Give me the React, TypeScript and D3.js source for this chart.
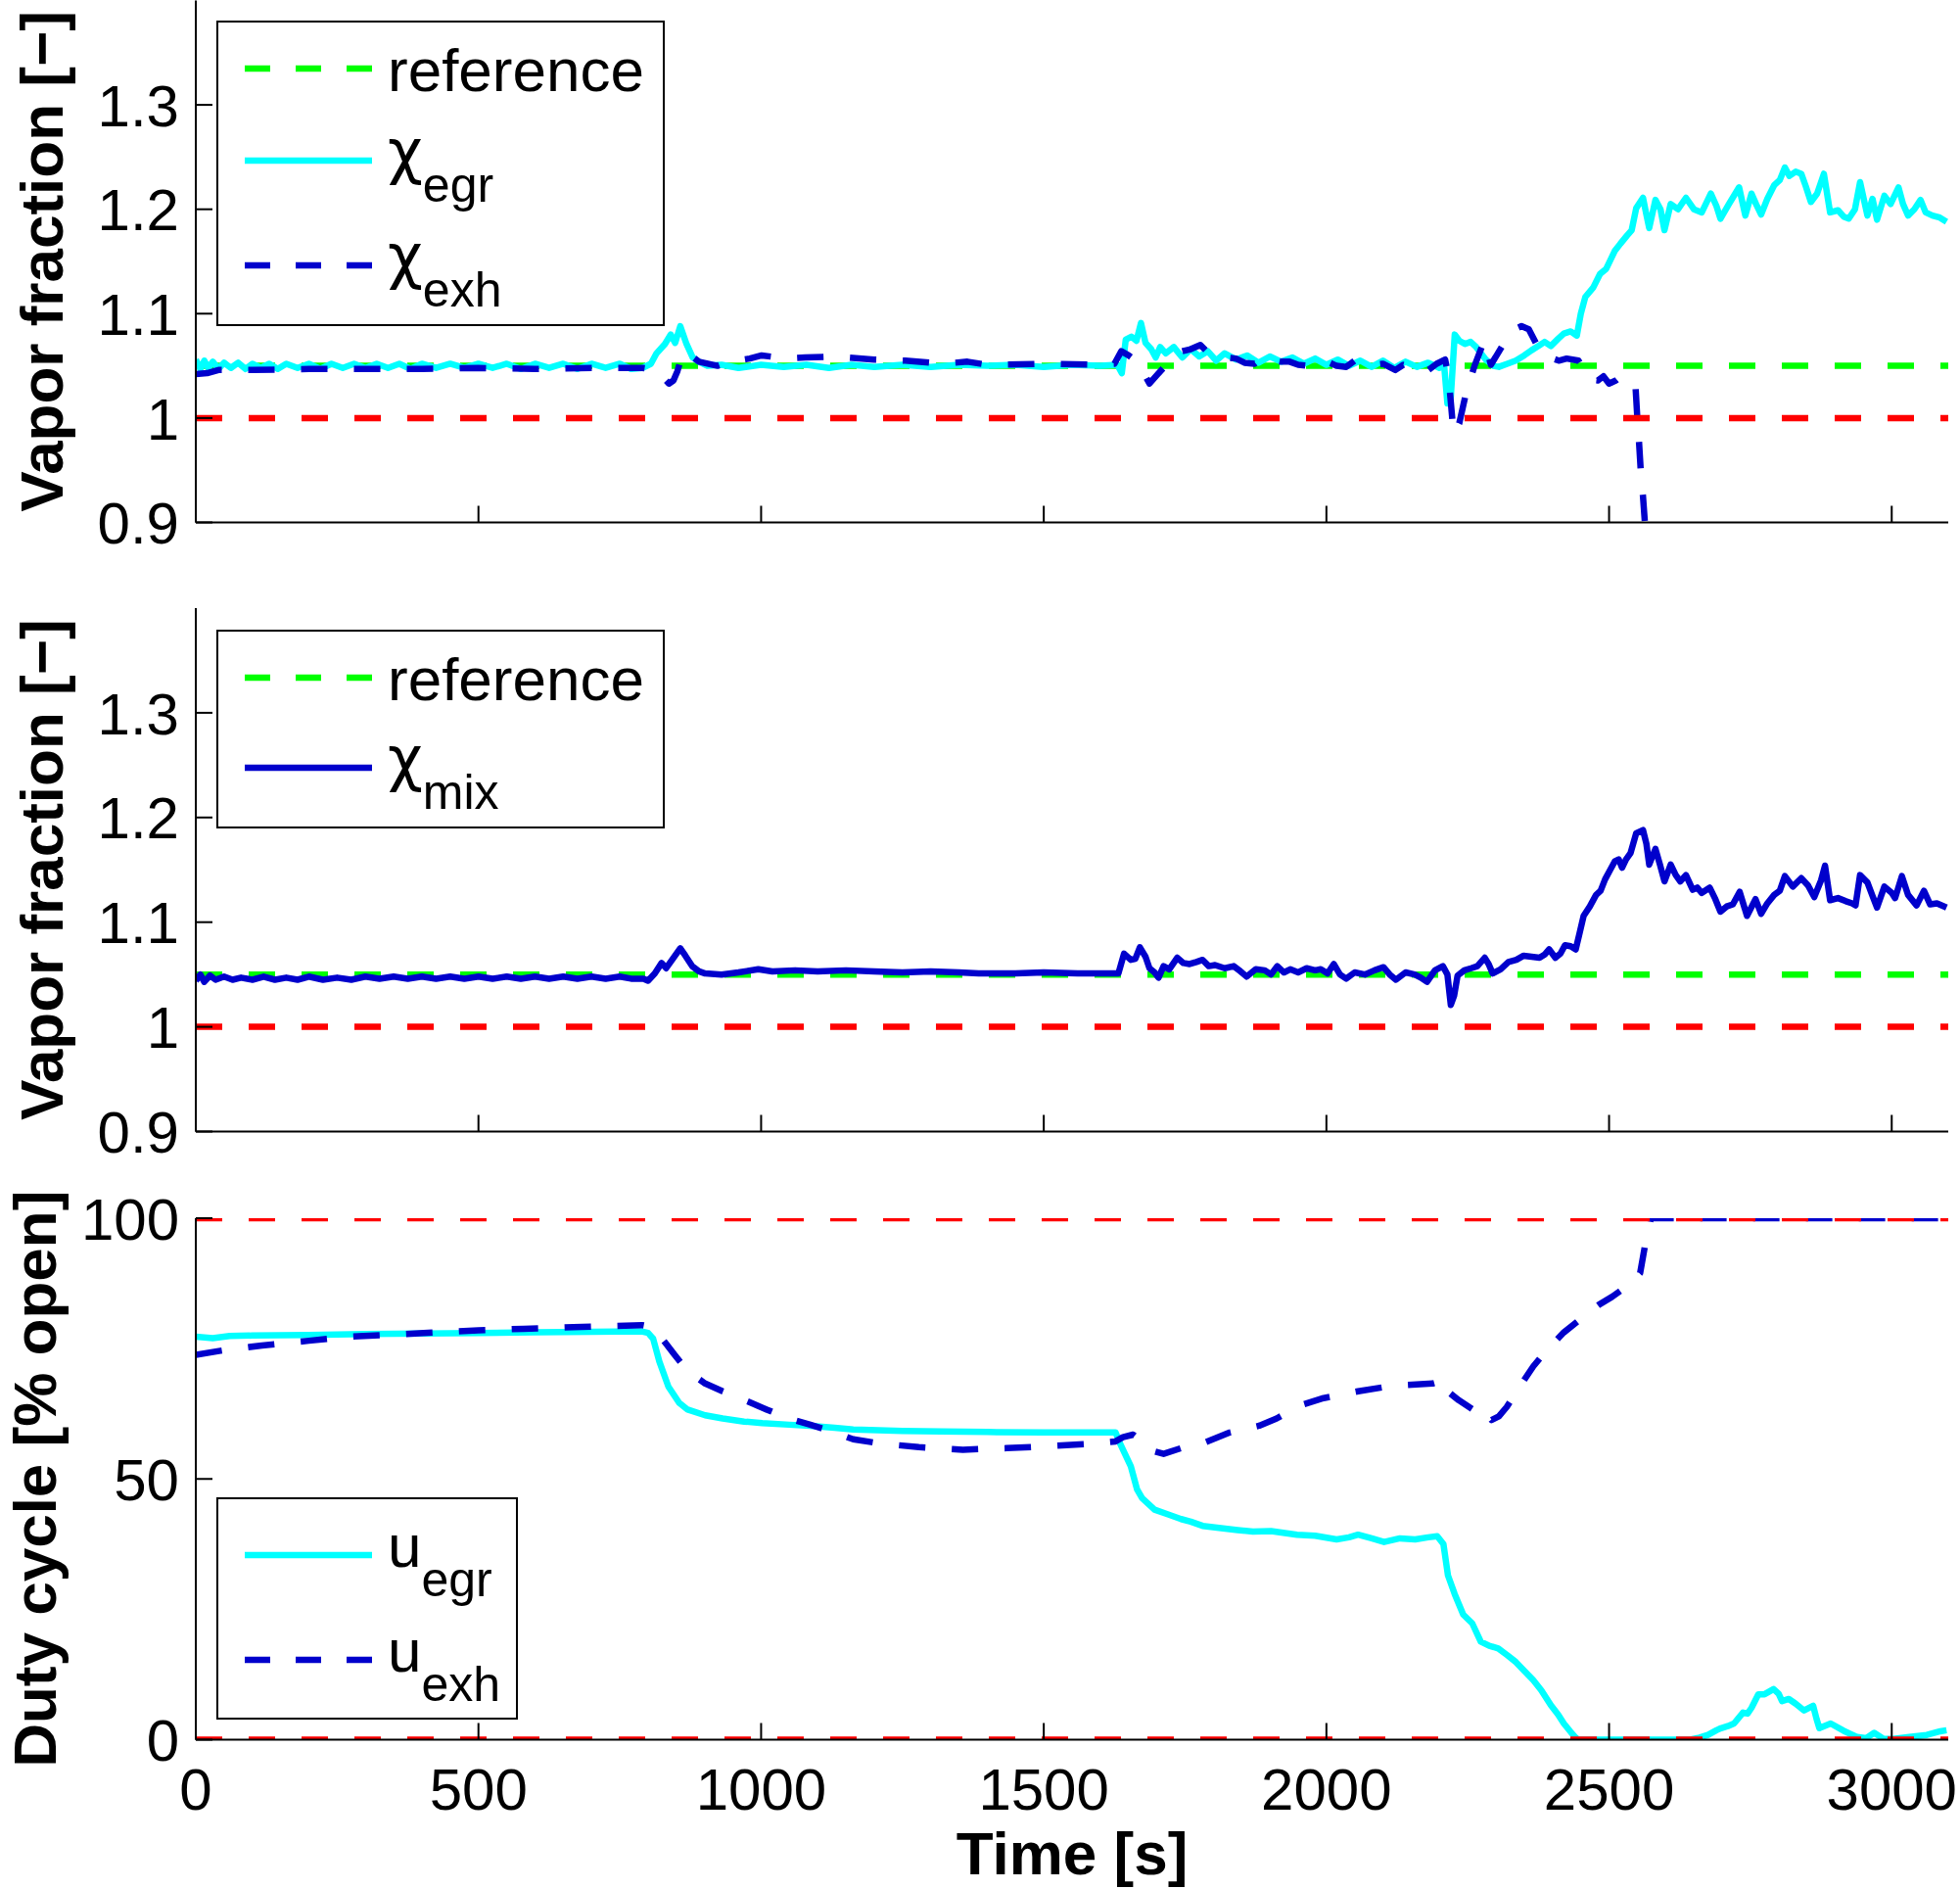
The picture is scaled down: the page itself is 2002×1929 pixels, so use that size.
import React from 'react';
import * as d3 from 'd3';

// ---- data ----
const T_MAX = 3100;
const timeTicks = [0, 500, 1000, 1500, 2000, 2500, 3000];
const vaporTicks = [0.9, 1, 1.1, 1.2, 1.3];
const dutyTicks = [0, 50, 100];
const vaporRef = 1.05;
const vaporLimit = 1.0;
const dutyLimits = [0, 100];

const chiEgr: [number, number][] = [
  [0, 1.056], [8, 1.047], [15, 1.055], [22, 1.048], [30, 1.054], [40, 1.047], [50, 1.053], [62, 1.048], [75, 1.053],
  [88, 1.047], [100, 1.052], [115, 1.048], [130, 1.052], [145, 1.047], [160, 1.052], [180, 1.048], [200, 1.052],
  [220, 1.047], [240, 1.052], [260, 1.048], [280, 1.052], [300, 1.048], [320, 1.052], [340, 1.048], [360, 1.052],
  [380, 1.047], [400, 1.052], [425, 1.048], [450, 1.052], [475, 1.048], [500, 1.052], [525, 1.048], [550, 1.052],
  [575, 1.047], [600, 1.052], [625, 1.048], [650, 1.052], [675, 1.047], [700, 1.052], [725, 1.048], [750, 1.052],
  [770, 1.047], [790, 1.048], [805, 1.052], [815, 1.062],
  [830, 1.071], [840, 1.08], [848, 1.072], [857, 1.088], [868, 1.071], [879, 1.058], [890, 1.054], [905, 1.05],
  [930, 1.051], [960, 1.048], [1000, 1.051], [1040, 1.049], [1080, 1.051], [1120, 1.048], [1160, 1.051], [1200, 1.049],
  [1250, 1.051], [1300, 1.049], [1350, 1.051], [1400, 1.05], [1450, 1.051], [1500, 1.049], [1550, 1.051], [1600, 1.05],
  [1630, 1.051], [1638, 1.043], [1645, 1.075], [1655, 1.078], [1664, 1.074], [1672, 1.091], [1680, 1.072], [1690, 1.066],
  [1698, 1.058], [1706, 1.068], [1716, 1.062], [1730, 1.068], [1745, 1.058], [1760, 1.066], [1775, 1.059], [1790, 1.064],
  [1805, 1.055], [1820, 1.062], [1840, 1.056], [1860, 1.06], [1880, 1.053], [1900, 1.059], [1920, 1.054], [1940, 1.058],
  [1960, 1.052], [1980, 1.057], [2000, 1.051], [2020, 1.056], [2040, 1.05], [2060, 1.055], [2080, 1.049], [2100, 1.055],
  [2120, 1.048], [2140, 1.054], [2160, 1.049], [2180, 1.053], [2200, 1.048], [2208, 1.052], [2214, 1.014], [2220, 1.02],
  [2227, 1.08], [2235, 1.074], [2245, 1.071], [2255, 1.073], [2265, 1.068], [2282, 1.056], [2295, 1.05], [2305, 1.049],
  [2320, 1.052], [2335, 1.055], [2350, 1.06], [2363, 1.065], [2375, 1.069], [2386, 1.073], [2397, 1.069], [2410, 1.076],
  [2420, 1.081], [2432, 1.083], [2443, 1.079], [2450, 1.1], [2458, 1.116], [2472, 1.125], [2484, 1.138], [2495, 1.143],
  [2510, 1.16], [2520, 1.167], [2532, 1.175], [2540, 1.18], [2548, 1.201], [2560, 1.211], [2566, 1.195], [2571, 1.182],
  [2582, 1.209], [2591, 1.2], [2598, 1.18], [2609, 1.205], [2622, 1.2], [2636, 1.211], [2650, 1.2], [2664, 1.197],
  [2680, 1.215], [2690, 1.203], [2697, 1.191], [2712, 1.205], [2730, 1.221], [2741, 1.194], [2752, 1.215], [2760, 1.205],
  [2769, 1.195], [2780, 1.21], [2792, 1.223], [2802, 1.228], [2811, 1.24], [2819, 1.232], [2830, 1.236], [2840, 1.234],
  [2848, 1.222], [2857, 1.207], [2868, 1.215], [2880, 1.234], [2891, 1.197], [2905, 1.199], [2915, 1.193], [2924, 1.191],
  [2935, 1.2], [2944, 1.226], [2957, 1.194], [2966, 1.21], [2974, 1.19], [2987, 1.213], [2998, 1.205], [3012, 1.221],
  [3020, 1.205], [3029, 1.194], [3040, 1.2], [3051, 1.209], [3060, 1.197], [3072, 1.194], [3085, 1.192], [3097, 1.188],
];

const chiExh: [number, number][] = [
  [0, 1.042], [20, 1.043], [40, 1.046], [100, 1.046], [200, 1.047], [300, 1.047], [400, 1.047], [500, 1.048],
  [600, 1.047], [700, 1.048], [790, 1.048], [815, 1.046], [825, 1.04], [837, 1.033], [845, 1.036], [852, 1.045],
  [860, 1.06], [868, 1.064], [880, 1.058], [890, 1.054], [923, 1.05], [945, 1.054], [980, 1.057], [1001, 1.06],
  [1045, 1.057], [1078, 1.058], [1133, 1.059], [1200, 1.056], [1255, 1.055], [1321, 1.052], [1365, 1.054], [1400, 1.051],
  [1500, 1.052], [1600, 1.051], [1625, 1.052], [1637, 1.064], [1650, 1.06], [1660, 1.056], [1675, 1.045], [1687, 1.033],
  [1700, 1.041], [1715, 1.05], [1738, 1.063], [1760, 1.066], [1777, 1.07], [1790, 1.063], [1806, 1.06], [1823, 1.058],
  [1840, 1.057], [1855, 1.053], [1873, 1.052], [1887, 1.058], [1901, 1.056], [1918, 1.054], [1935, 1.054], [1950, 1.051],
  [1968, 1.05], [1985, 1.054], [2002, 1.054], [2018, 1.05], [2035, 1.049], [2050, 1.055], [2068, 1.053], [2085, 1.051],
  [2100, 1.052], [2122, 1.046], [2136, 1.051], [2150, 1.049], [2165, 1.047], [2178, 1.045], [2195, 1.052], [2210, 1.056],
  [2216, 1.04], [2225, 0.985], [2235, 0.995], [2247, 1.024], [2262, 1.05], [2279, 1.074], [2291, 1.051], [2310, 1.068],
  [2332, 1.085], [2345, 1.088], [2358, 1.085], [2378, 1.064], [2395, 1.058], [2411, 1.055], [2425, 1.057], [2446, 1.055],
  [2456, 1.045], [2466, 1.037], [2480, 1.036], [2490, 1.04], [2500, 1.033], [2512, 1.036], [2523, 1.041], [2535, 1.036],
  [2547, 1.028], [2550, 1.0], [2553, 0.977], [2556, 0.95], [2560, 0.925], [2566, 0.88],
];

const chiMix: [number, number][] = [
  [0, 1.044], [8, 1.05], [15, 1.043], [25, 1.049], [35, 1.045], [50, 1.048], [65, 1.045], [80, 1.047], [100, 1.045],
  [120, 1.048], [140, 1.045], [160, 1.047], [180, 1.045], [200, 1.048], [225, 1.045], [250, 1.047], [275, 1.045],
  [300, 1.048], [325, 1.046], [350, 1.048], [375, 1.046], [400, 1.048], [425, 1.046], [450, 1.048], [475, 1.046],
  [500, 1.048], [525, 1.046], [550, 1.048], [575, 1.046], [600, 1.048], [625, 1.046], [650, 1.048], [675, 1.046],
  [700, 1.048], [725, 1.046], [750, 1.048], [770, 1.046], [792, 1.046], [800, 1.044], [812, 1.051],
  [824, 1.061], [832, 1.056], [845, 1.066], [857, 1.075], [866, 1.068], [878, 1.058], [890, 1.053], [901, 1.051],
  [930, 1.05], [960, 1.052], [995, 1.055], [1020, 1.053], [1060, 1.054], [1100, 1.053], [1150, 1.054], [1200, 1.053],
  [1250, 1.052], [1300, 1.053], [1350, 1.052], [1385, 1.051], [1450, 1.051], [1500, 1.052], [1560, 1.051], [1600, 1.051],
  [1632, 1.051], [1642, 1.07], [1654, 1.064], [1662, 1.065], [1670, 1.076], [1680, 1.067], [1687, 1.056], [1696, 1.052],
  [1703, 1.047], [1712, 1.058], [1722, 1.055], [1736, 1.066], [1747, 1.061], [1758, 1.06], [1770, 1.062], [1781, 1.064],
  [1792, 1.058], [1803, 1.059], [1820, 1.056], [1836, 1.058], [1848, 1.053], [1859, 1.048], [1875, 1.055], [1891, 1.054],
  [1902, 1.05], [1913, 1.058], [1925, 1.052], [1936, 1.055], [1950, 1.052], [1965, 1.056], [1980, 1.054], [1990, 1.055],
  [2002, 1.051], [2013, 1.06], [2024, 1.05], [2035, 1.046], [2050, 1.052], [2068, 1.05], [2085, 1.054], [2101, 1.057],
  [2112, 1.05], [2123, 1.045], [2140, 1.052], [2156, 1.05], [2167, 1.047], [2178, 1.043], [2192, 1.054], [2206, 1.058],
  [2214, 1.05], [2220, 1.021], [2226, 1.03], [2232, 1.049], [2244, 1.054], [2256, 1.056], [2267, 1.058], [2280, 1.066],
  [2287, 1.06], [2294, 1.051], [2308, 1.055], [2322, 1.062], [2336, 1.064], [2349, 1.068], [2363, 1.067], [2377, 1.066],
  [2386, 1.069], [2394, 1.074], [2405, 1.066], [2414, 1.07], [2422, 1.078], [2432, 1.077], [2441, 1.074], [2448, 1.09],
  [2455, 1.106], [2466, 1.115], [2477, 1.126], [2485, 1.13], [2493, 1.141], [2502, 1.15], [2510, 1.158], [2517, 1.16],
  [2523, 1.152], [2530, 1.16], [2538, 1.166], [2548, 1.185], [2560, 1.188], [2566, 1.175], [2571, 1.155], [2582, 1.17],
  [2590, 1.155], [2598, 1.139], [2609, 1.155], [2618, 1.145], [2626, 1.139], [2636, 1.145], [2648, 1.131], [2656, 1.133],
  [2664, 1.128], [2678, 1.133], [2688, 1.122], [2697, 1.11], [2708, 1.115], [2719, 1.117], [2731, 1.129], [2744, 1.106],
  [2759, 1.122], [2769, 1.108], [2780, 1.118], [2792, 1.126], [2802, 1.13], [2811, 1.144], [2825, 1.134], [2840, 1.142],
  [2852, 1.135], [2863, 1.124], [2875, 1.14], [2882, 1.154], [2891, 1.121], [2905, 1.123], [2919, 1.12], [2930, 1.118],
  [2936, 1.116], [2944, 1.145], [2957, 1.138], [2966, 1.125], [2974, 1.114], [2987, 1.134], [3000, 1.128], [3006, 1.123],
  [3018, 1.144], [3029, 1.126], [3044, 1.116], [3057, 1.13], [3068, 1.117], [3080, 1.118], [3097, 1.114],
];

const uEgr: [number, number][] = [
  [0, 77.3], [30, 77.0], [60, 77.4], [100, 77.5], [200, 77.6], [300, 77.8], [400, 77.9], [500, 78.0],
  [600, 78.1], [700, 78.2], [789, 78.3], [800, 78.0], [809, 76.9], [820, 72.5], [836, 67.7], [855, 64.6],
  [870, 63.3], [901, 62.2], [932, 61.6], [970, 61.0], [1002, 60.7], [1050, 60.4], [1086, 60.2], [1130, 59.8],
  [1163, 59.5], [1250, 59.2], [1318, 59.1], [1400, 59.0], [1500, 58.9], [1549, 58.9], [1627, 58.9], [1635, 56.8],
  [1654, 52.4], [1665, 48.0], [1674, 46.3], [1696, 44.1], [1720, 43.2], [1743, 42.3], [1760, 41.8], [1781, 41.0],
  [1810, 40.6], [1843, 40.2], [1870, 39.9], [1902, 40.0], [1948, 39.3], [1980, 39.1], [2018, 38.4], [2040, 38.8],
  [2056, 39.3], [2080, 38.6], [2102, 37.9], [2130, 38.6], [2157, 38.4], [2180, 38.8], [2196, 39.0], [2207, 37.5],
  [2215, 31.5], [2227, 27.9], [2242, 24.0], [2258, 22.3], [2273, 18.8], [2288, 18.0], [2304, 17.5], [2320, 16.2],
  [2335, 14.9], [2350, 13.2], [2366, 11.4], [2380, 9.5], [2397, 6.6], [2410, 4.8], [2420, 3.1], [2432, 1.5],
  [2440, 0.5], [2445, 0], [2644, 0], [2660, 0.4], [2675, 0.9], [2690, 1.8], [2698, 2.2], [2710, 2.6],
  [2721, 3.1], [2737, 5.2], [2745, 5.0], [2752, 6.1], [2764, 8.7], [2775, 8.7], [2791, 9.7], [2800, 8.8],
  [2806, 7.4], [2818, 7.8], [2830, 6.9], [2845, 5.6], [2861, 6.5], [2867, 4.0], [2872, 2.2], [2892, 3.1],
  [2915, 1.7], [2939, 0.5], [2955, 0.3], [2969, 1.3], [2985, 0.2], [3000, 0.1], [3031, 0.5], [3062, 0.9],
  [3086, 1.6], [3097, 1.8],
];

const uExh: [number, number][] = [
  [0, 73.8], [50, 74.7], [117, 75.6], [200, 76.5], [272, 77.3], [350, 77.7], [426, 78.1], [500, 78.5],
  [580, 78.8], [700, 79.2], [789, 79.5], [803, 79.2], [816, 78.1], [830, 76.2], [847, 73.8], [870, 70.7],
  [901, 68.3], [932, 66.8], [971, 65.1], [1010, 63.3], [1048, 61.6], [1087, 60.4], [1125, 59.1], [1163, 57.6],
  [1210, 56.8], [1279, 56.1], [1357, 55.6], [1434, 55.9], [1511, 56.3], [1588, 56.8], [1627, 57.2], [1640, 58.0],
  [1658, 58.5], [1675, 57.0], [1689, 55.5], [1712, 54.8], [1743, 55.9], [1781, 56.8], [1829, 58.9], [1881, 60.2],
  [1912, 61.6], [1951, 64.0], [1995, 65.5], [2056, 66.8], [2118, 67.9], [2188, 68.3], [2211, 69.0], [2219, 66.4],
  [2234, 65.1], [2265, 62.9], [2277, 63.5], [2292, 61.3], [2305, 62.0], [2319, 63.8], [2342, 67.7], [2366, 71.6],
  [2389, 74.6], [2420, 78.1], [2451, 80.8], [2482, 83.4], [2505, 84.9], [2536, 87.3], [2555, 89.5], [2563, 94.4],
  [2574, 100], [3097, 100],
];

const CYAN = '#00ffff';
const BLUE = '#0000cc';
const GREEN = '#00ff00';
const RED = '#ff0000';
const DASH = '27 27';
const LW = 6.5;
const FONT = '"Liberation Sans", Arial, Helvetica, sans-serif';

const x = d3.scaleLinear().domain([0, T_MAX]).range([200, 1990]);
const yTop = d3.scaleLinear().domain([0.9, 1.4]).range([533.5, 0.5]);
const yMid = d3.scaleLinear().domain([0.9, 1.4]).range([1155.5, 621]);
const yBot = d3.scaleLinear().domain([0, 100]).range([1776.5, 1244]);

type Series = { data: [number, number][]; color: string; dashed: boolean };
type LegendItem = { main: string; sub?: string; greek?: boolean; color: string; dashed: boolean };

function Panel(props: {
  id: string;
  y: d3.ScaleLinear<number, number>;
  ticks: number[];
  series: Series[];
  hlines: { value: number; color: string }[];
  ylabel: string;
  ylabelX: number;
  xLabels: boolean;
}) {
  const { id, y, ticks, series, hlines, ylabel, ylabelX, xLabels } = props;
  const [x0, x1] = x.range();
  const [yb, yt] = y.range();
  const line = d3.line<[number, number]>().x(d => x(d[0])).y(d => y(d[1]));
  return (
    <g>
      <defs>
        <clipPath id={id}>
          <rect x={x0} y={yt} width={x1 - x0} height={yb - yt} />
        </clipPath>
      </defs>
      <g clipPath={`url(#${id})`}>
        {series.map((s, i) => (
          <path key={i} d={line(s.data) || ''} fill="none" stroke={s.color} strokeWidth={LW}
            strokeDasharray={s.dashed ? DASH : undefined} strokeLinejoin="round" />
        ))}
        {hlines.map((h, i) => (
          <line key={i} x1={x(0)} x2={x(T_MAX)} y1={y(h.value)} y2={y(h.value)}
            stroke={h.color} strokeWidth={LW} strokeDasharray={DASH} />
        ))}
      </g>
      <line x1={x0} x2={x0} y1={yt} y2={yb} stroke="#000" strokeWidth={2} />
      <line x1={x0} x2={x1} y1={yb} y2={yb} stroke="#000" strokeWidth={2} />
      {timeTicks.map(t => (
        <line key={t} x1={x(t)} x2={x(t)} y1={yb} y2={yb - 17} stroke="#000" strokeWidth={2} />
      ))}
      {ticks.map(v => (
        <g key={v}>
          <line x1={x0} x2={x0 + 17} y1={y(v)} y2={y(v)} stroke="#000" strokeWidth={2} />
          <text x={183} y={y(v)} dy="0.36em" textAnchor="end" fontSize={60} fontFamily={FONT}>{String(v)}</text>
        </g>
      ))}
      {xLabels && timeTicks.map(t => (
        <text key={t} x={x(t)} y={1848} textAnchor="middle" fontSize={60} fontFamily={FONT}>{String(t)}</text>
      ))}
      <text transform={`translate(${ylabelX},${(yb + yt) / 2}) rotate(-90)`} textAnchor="middle"
        fontSize={62} fontWeight="bold" fontFamily={FONT}>{ylabel}</text>
    </g>
  );
}

function Legend(props: { x: number; y: number; w: number; h: number; items: (LegendItem & { ly: number })[] }) {
  const { x: bx, y: by, w, h, items } = props;
  return (
    <g>
      <rect x={bx} y={by} width={w} height={h} fill="#fff" stroke="#000" strokeWidth={2} />
      {items.map((it, i) => (
        <g key={i}>
          <line x1={250} x2={380} y1={it.ly} y2={it.ly} stroke={it.color} strokeWidth={LW}
            strokeDasharray={it.dashed ? '26 26' : undefined} />
          <text x={396} y={it.sub ? it.ly + 12 : it.ly + 23} fontSize={62} fontFamily={FONT}>
            <tspan fontFamily={it.greek ? '"DejaVu Sans", sans-serif' : FONT}>{it.main}</tspan>
            {it.sub && <tspan dy={30} fontSize={50}>{it.sub}</tspan>}
          </text>
        </g>
      ))}
    </g>
  );
}

export default function App() {
  return (
    <div style={{ position: 'absolute', left: 0, top: 0 }}>
      <svg width={2002} height={1929} style={{ display: 'block', background: '#fff' }}>
        <Panel id="c1" y={yTop} ticks={vaporTicks} ylabel="Vapor fraction [−]" ylabelX={64} xLabels={false}
          series={[
            { data: [[0, vaporRef], [T_MAX, vaporRef]], color: GREEN, dashed: true },
            { data: chiEgr, color: CYAN, dashed: false },
            { data: chiExh, color: BLUE, dashed: true },
          ]}
          hlines={[{ value: vaporLimit, color: RED }]} />
        <Legend x={222} y={22} w={456} h={310} items={[
          { main: 'reference', color: GREEN, dashed: true, ly: 70 },
          { main: 'χ', sub: 'egr', greek: true, color: CYAN, dashed: false, ly: 164 },
          { main: 'χ', sub: 'exh', greek: true, color: BLUE, dashed: true, ly: 271 },
        ]} />

        <Panel id="c2" y={yMid} ticks={vaporTicks} ylabel="Vapor fraction [−]" ylabelX={64} xLabels={false}
          series={[
            { data: [[0, vaporRef], [T_MAX, vaporRef]], color: GREEN, dashed: true },
            { data: chiMix, color: BLUE, dashed: false },
          ]}
          hlines={[{ value: vaporLimit, color: RED }]} />
        <Legend x={222} y={644} w={456} h={201} items={[
          { main: 'reference', color: GREEN, dashed: true, ly: 692 },
          { main: 'χ', sub: 'mix', greek: true, color: BLUE, dashed: false, ly: 784 },
        ]} />

        <Panel id="c3" y={yBot} ticks={dutyTicks} ylabel="Duty cycle [% open]" ylabelX={57} xLabels={true}
          series={[
            { data: uEgr, color: CYAN, dashed: false },
            { data: uExh, color: BLUE, dashed: true },
          ]}
          hlines={dutyLimits.map(v => ({ value: v, color: RED }))} />
        <Legend x={222} y={1530} w={306} h={225} items={[
          { main: 'u', sub: 'egr', color: CYAN, dashed: false, ly: 1588 },
          { main: 'u', sub: 'exh', color: BLUE, dashed: true, ly: 1695 },
        ]} />

        <text x={1095} y={1914} textAnchor="middle" fontSize={62} fontWeight="bold" fontFamily={FONT}>Time [s]</text>
      </svg>
    </div>
  );
}
